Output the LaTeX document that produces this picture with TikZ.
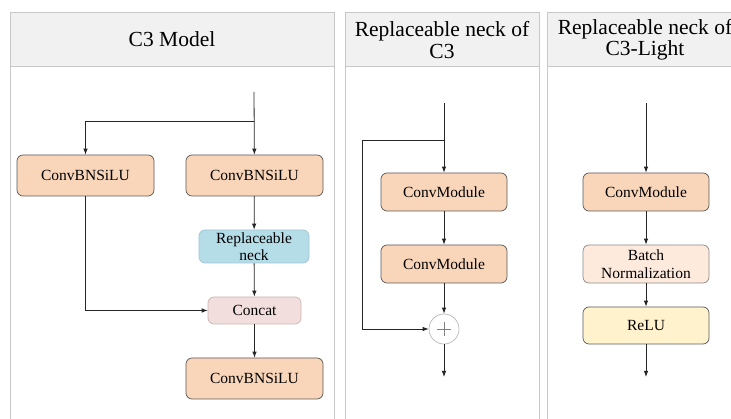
\documentclass[tikz,border=0pt]{standalone}
\usepackage{fontspec}
\setmainfont{LiberationSerif}[Extension=.ttf, UprightFont=*-Regular, BoldFont=*-Bold]
\usetikzlibrary{arrows.meta}

\definecolor{panelline}{HTML}{C8C8C8}
\definecolor{headgray}{HTML}{F1F1F1}
\definecolor{convfill}{HTML}{F9D6B9}
\definecolor{convline}{HTML}{595959}
\definecolor{neckfill}{HTML}{B5DDE8}
\definecolor{neckline}{HTML}{9FC6D2}
\definecolor{catfill}{HTML}{F2DEDC}
\definecolor{catline}{HTML}{C9B6B4}
\definecolor{bnfill}{HTML}{FDEADD}
\definecolor{bnline}{HTML}{8A8A8A}
\definecolor{relufill}{HTML}{FFF2CD}

\tikzset{
	panel/.style={draw=panelline, line width=0.9pt},
	header/.style={draw=panelline, fill=headgray, line width=0.9pt},
	title/.style={align=center, font=\fontsize{21.5}{21.5}\selectfont},
	block/.style={rounded corners=6pt, inner sep=0pt, align=center, line width=0.7pt, font=\fontsize{15.5}{17.5}\selectfont},
	conv/.style={block, fill=convfill, draw=convline, minimum width=137pt, minimum height=41pt},
	module/.style={block, fill=convfill, draw=convline, minimum width=126pt, minimum height=38pt},
	neck/.style={block, fill=neckfill, draw=neckline, minimum width=110pt, minimum height=33pt},
	concat/.style={block, fill=catfill, draw=catline, minimum width=93pt, minimum height=27pt},
	norm/.style={block, fill=bnfill, draw=bnline, minimum width=126pt, minimum height=38pt},
	relu/.style={block, fill=relufill, draw=convline, minimum width=126pt, minimum height=37pt},
	adder/.style={circle, draw=gray!55, fill=white, line width=0.7pt, minimum size=30pt, inner sep=0pt},
}

\begin{document}
\begin{tikzpicture}[x=1pt, y=-1pt]
	\useasboundingbox (0,0) rectangle (731,419);
	\clip (0,0) rectangle (731,419);
	\fill[white] (0,0) rectangle (731,419);

	% panels and their title bands
	\draw[panel] (10,12) rectangle (334,440);
	\draw[header] (10,12) rectangle (334,66);
	\draw[panel] (345,12) rectangle (539,440);
	\draw[header] (345,12) rectangle (539,66);
	\draw[panel] (547,12) rectangle (745,440);
	\draw[header] (547,12) rectangle (745,66);

	\node (t1) [title] at (172,39) {C3 Model};
	\node (t2) [title] at (442,40) {Replaceable neck of\\C3};
	\node (t3) [title] at (645,40) {Replaceable neck of\\C3-Light};

	% C3 block
	\coordinate (in1) at (254,92);
	\coordinate (split1) at (254,121);
	\node (cbsL) [conv] at (85.5,175.5) {ConvBNSiLU};
	\node (cbsR) [conv] at (254.5,175.5) {ConvBNSiLU};
	\node (rneck) [neck] at (254,246.5) {Replaceable\\neck};
	\node (cat) [concat] at (254.5,310.5) {Concat};
	\node (cbsOut) [conv] at (254.5,378.5) {ConvBNSiLU};

	% neck of C3
	\coordinate (in2) at (444,103);
	\coordinate (split2) at (444,140);
	\coordinate (skip) at (362,140);
	\node (cm1) [module] at (444,192) {ConvModule};
	\node (cm2) [module] at (444,264) {ConvModule};
	\node (add) [adder] at (444,329) {};
	\draw[gray, line width=0.7pt] (add.center) ++(-7,0) -- ++(14,0);
	\draw[gray, line width=0.7pt] (add.center) ++(0,-7) -- ++(0,14);
	\coordinate (out2) at (444,377);

	% neck of C3-Light
	\coordinate (in3) at (646,103);
	\node (cm3) [module] at (646,192) {ConvModule};
	\node (bn) [norm] at (646,264) {Batch\\Normalization};
	\node (act) [relu] at (646,325.5) {ReLU};
	\coordinate (out3) at (646,377);

	\begin{scope}[line width=0.8pt, black!85, ->, >={Latex[length=6pt,width=4.5pt]}]
		\draw (in1) -- (cbsR);
		\draw (split1) -| (cbsL);
		\draw (cbsR) -- (rneck);
		\draw (rneck) -- (cat);
		\draw (cbsL) |- (cat);
		\draw (cat) -- (cbsOut);

		\draw (in2) -- (cm1);
		\draw (split2) -- (skip) |- (add);
		\draw (cm1) -- (cm2);
		\draw (cm2) -- (add);
		\draw (add) -- (out2);

		\draw (in3) -- (cm3);
		\draw (cm3) -- (bn);
		\draw (bn) -- (act);
		\draw (act) -- (out3);
	\end{scope}
\end{tikzpicture}
\end{document}
